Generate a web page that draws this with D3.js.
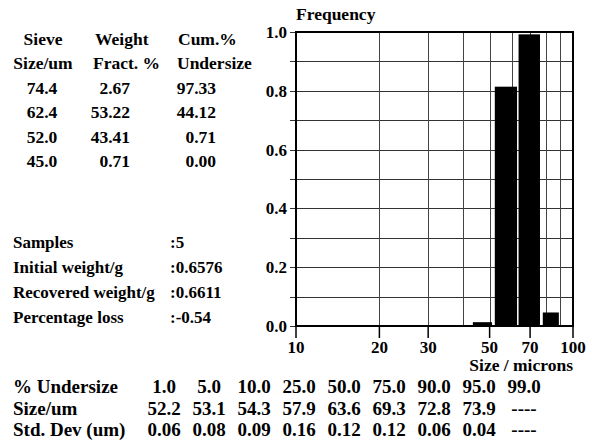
<!DOCTYPE html>
<html>
<head>
<meta charset="utf-8">
<script src="https://cdn.jsdelivr.net/npm/d3@7"></script>
<style>
  body { margin: 0; background: #fff; }
</style>
</head>
<body>
<div id="grafico"></div>
<script>
// sieve table
const sieveSizes = [74.4, 62.4, 52.0, 45.0];
const weightFract = [2.67, 53.22, 43.41, 0.71];
const cumUndersize = [97.33, 44.12, 0.71, 0.00];

// sample info
const sampleLabels = ["Samples", "Initial weight/g", "Recovered weight/g", "Percentage loss"];
const sampleValues = [":5", ":0.6576", ":0.6611", ":-0.54"];

// percentile table
const pctUndersize = [1.0, 5.0, 10.0, 25.0, 50.0, 75.0, 90.0, 95.0, 99.0];
const sizeUm = [52.2, 53.1, 54.3, 57.9, 63.6, 69.3, 72.8, 73.9, null];
const stdDev = [0.06, 0.08, 0.09, 0.16, 0.12, 0.12, 0.06, 0.04, null];

// histogram (bar edges in microns)
const binLo = [43.5, 52.2, 63.6, 77.8];
const binHi = [51.0, 62.8, 76.0, 88.9];
const frequency = [0.013, 0.814, 0.992, 0.046];

const xTicks = [10, 20, 30, 50, 70, 100];
const xGrid = [20, 30, 40, 50, 60, 70, 80, 90];
const yTicks = [0, 0.2, 0.4, 0.6, 0.8, 1.0];
const yGrid = d3.range(0, 11).map(d => d / 10);

var ancho = 592;
var alto = 441;
var fuente = "Liberation Serif";

var svg = d3.select("#grafico")
    .append("svg")
    .attr("width", ancho)
    .attr("height", alto);

// every text gets the serif font as an attribute
function texto(sel, size) {
    return sel.attr("font-family", fuente)
        .attr("font-weight", "bold")
        .attr("font-size", size)
        .attr("fill", "#000");
}

var x = d3.scaleLog()
    .domain([10, 100])
    .range([296, 573]);

var y = d3.scaleLinear()
    .domain([0, 1])
    .range([326, 32]);

// horizontal grid + left ticks
svg.selectAll(".hgrid")
    .data(yGrid)
    .enter().append("line")
    .attr("x1", 290)
    .attr("x2", 573)
    .attr("y1", d => Math.round(y(d)) + 0.5)
    .attr("y2", d => Math.round(y(d)) + 0.5)
    .style("stroke", "#333")
    .style("stroke-width", 1);

// vertical grid
svg.selectAll(".vgrid")
    .data(xGrid)
    .enter().append("line")
    .attr("x1", d => Math.round(x(d)) + 0.5)
    .attr("x2", d => Math.round(x(d)) + 0.5)
    .attr("y1", 32)
    .attr("y2", 326)
    .style("stroke", "#444")
    .style("stroke-width", 1);

// bars
svg.selectAll(".bar")
    .data(frequency)
    .enter().append("rect")
    .attr("x", (d, i) => x(binLo[i]))
    .attr("width", (d, i) => x(binHi[i]) - x(binLo[i]))
    .attr("y", d => y(d))
    .attr("height", d => y(0) - y(d))
    .style("fill", "#000");

// frame
svg.append("rect")
    .attr("x", 296)
    .attr("y", 32)
    .attr("width", 573 - 296)
    .attr("height", 326 - 32)
    .style("fill", "none")
    .style("stroke", "#000")
    .style("stroke-width", 2);

// x ticks
svg.selectAll(".xtick")
    .data(xTicks)
    .enter().append("line")
    .attr("x1", d => x(d))
    .attr("x2", d => x(d))
    .attr("y1", 326)
    .attr("y2", 338)
    .style("stroke", "#000")
    .style("stroke-width", 1.5);

texto(svg.selectAll(".xlab")
    .data(xTicks)
    .enter().append("text"), 17)
    .attr("x", d => x(d))
    .attr("y", 353)
    .attr("text-anchor", "middle")
    .text(d => d);

texto(svg.selectAll(".ylab")
    .data(yTicks)
    .enter().append("text"), 17)
    .attr("x", 287)
    .attr("y", d => y(d))
    .attr("dy", "0.35em")
    .attr("text-anchor", "end")
    .text(d => d.toFixed(1));

texto(svg.append("text"), 17.5)
    .attr("x", 296)
    .attr("y", 20)
    .text("Frequency");

texto(svg.append("text"), 17.5)
    .attr("x", 573)
    .attr("y", 371)
    .attr("text-anchor", "end")
    .text("Size / microns");

// sieve table
var rowY = i => 45 + i * 24.4;
var heads = [
    { txt: "Sieve", x: 43, row: 0, anchor: "middle" },
    { txt: "Size/um", x: 43, row: 1, anchor: "middle" },
    { txt: "Weight", x: 95, row: 0, anchor: "start" },
    { txt: "Fract. %", x: 93, row: 1, anchor: "start" },
    { txt: "Cum.%", x: 178, row: 0, anchor: "start" },
    { txt: "Undersize", x: 177, row: 1, anchor: "start" }
];
heads.forEach(h => {
    texto(svg.append("text"), 17.5)
        .attr("x", h.x)
        .attr("y", rowY(h.row))
        .attr("text-anchor", h.anchor)
        .text(h.txt);
});

texto(svg.selectAll(".sv")
    .data(sieveSizes)
    .enter().append("text"), 17.5)
    .attr("x", 42)
    .attr("y", (d, i) => rowY(i + 2))
    .attr("text-anchor", "middle")
    .text(d => d.toFixed(1));

texto(svg.selectAll(".wf")
    .data(weightFract)
    .enter().append("text"), 17.5)
    .attr("x", 130)
    .attr("y", (d, i) => rowY(i + 2))
    .attr("text-anchor", "end")
    .text(d => d.toFixed(2));

texto(svg.selectAll(".cu")
    .data(cumUndersize)
    .enter().append("text"), 17.5)
    .attr("x", 216)
    .attr("y", (d, i) => rowY(i + 2))
    .attr("text-anchor", "end")
    .text(d => d.toFixed(2));

// sample info
texto(svg.selectAll(".sl")
    .data(sampleLabels)
    .enter().append("text"), 17)
    .attr("x", 13)
    .attr("y", (d, i) => 248 + i * 25)
    .text(d => d);
texto(svg.selectAll(".sval")
    .data(sampleValues)
    .enter().append("text"), 17)
    .attr("x", 170)
    .attr("y", (d, i) => 248 + i * 25)
    .text(d => d);

// percentile table
var col = d3.scalePoint()
    .domain(d3.range(pctUndersize.length))
    .range([164, 524]);

var rows = [
    { label: "% Undersize", vals: pctUndersize.map(d => d.toFixed(1)) },
    { label: "Size/um", vals: sizeUm.map(d => d == null ? "----" : d.toFixed(1)) },
    { label: "Std. Dev (um)", vals: stdDev.map(d => d == null ? "----" : d.toFixed(2)) }
];

rows.forEach((r, j) => {
    var yy = 393 + j * 21.5;
    texto(svg.append("text"), 19).attr("x", 13).attr("y", yy).text(r.label);
    texto(svg.selectAll(".c" + j)
        .data(r.vals)
        .enter().append("text"), 19)
        .attr("x", (d, i) => col(i))
        .attr("y", yy)
        .attr("text-anchor", "middle")
        .text(d => d);
});
</script>
</body>
</html>
